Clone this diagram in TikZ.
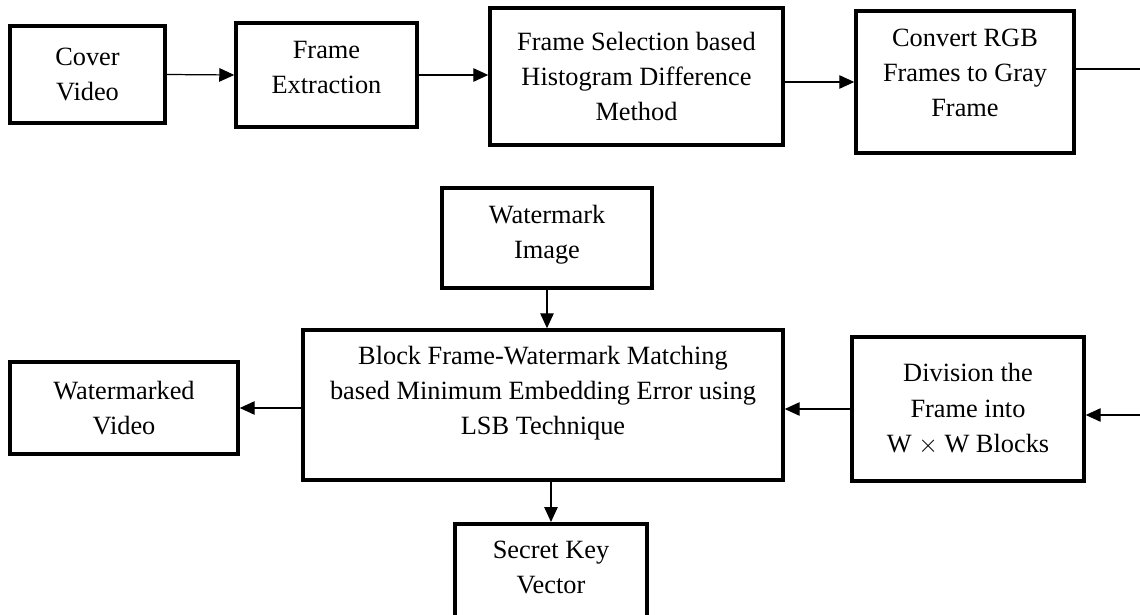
\documentclass[tikz,border=0pt]{standalone}
\usepackage{fontspec}
\setmainfont{Liberation Serif}
\usepackage{amsmath, amssymb}
\usepackage{xcolor}
\usetikzlibrary{arrows.meta}

\tikzset{
  blk/.style={draw, line width=2pt, align=center, inner sep=0pt,
    font=\fontsize{15pt}{20pt}\selectfont},
  conn/.style={line width=0.7pt, -{Triangle[length=0.3cm, width=0.27cm]}}
}

\begin{document}
\begin{tikzpicture}[x=0.02cm, y=-0.02cm]

\clip (0,0) rectangle (1140,615);

% top row
\node[blk, minimum width=3.1cm, minimum height=1.94cm] (cover) at (87.5,74.5) {Cover\\Video};
\node[blk, minimum width=3.62cm, minimum height=2.08cm, text depth=0.3cm] (extract) at (326.5,75) {Frame\\Extraction};
\node[blk, minimum width=5.86cm, minimum height=2.74cm] (select) at (636.5,76.5) {Frame Selection based\\Histogram Difference\\Method};
\node[blk, minimum width=4.36cm, minimum height=2.84cm, text depth=0.38cm] (gray) at (965,82) {Convert RGB\\Frames to Gray\\Frame};

% bottom part
\node[blk, minimum width=4.2cm, minimum height=2cm, text depth=0.26cm] (wmimg) at (547,238) {Watermark\\Image};
\node[blk, minimum width=9.6cm, minimum height=3cm, text depth=0.58cm] (embed) at (543,405) {Block Frame-Watermark Matching\\based Minimum Embedding Error using\\LSB Technique};
\node[blk, minimum width=4.56cm, minimum height=1.84cm] (wmvid) at (124,408) {Watermarked\\Video};
\node[blk, minimum width=4.64cm, minimum height=2.88cm] (divide) at (968,409) {Division the\\Frame into\\W $\times$ W Blocks};
\node[blk, minimum width=3.84cm, inner ysep=0.34cm, anchor=north, text depth=0.9cm] (key) at (551,522) {Secret Key\\Vector};

% loose ends at the right border
\coordinate (outR) at (1140,69);
\coordinate (inR) at (1140,415);

\draw[conn] (cover.east) -- (extract.west);
\draw[conn] (extract.east) -- (extract.east -| select.west);
\draw[conn] (select.east |- gray.west) -- (gray.west);
\draw[line width=0.7pt] (gray.east |- outR) -- (outR);
\draw[conn] (inR) -- (inR -| divide.east);
\draw[conn] (divide.west) -- (divide.west -| embed.east);
\draw[conn] (embed.west |- wmvid.east) -- (wmvid.east);
\draw[conn] (wmimg.south) -- (wmimg.south |- embed.north);
\draw[conn] (key.north |- embed.south) -- (key.north);

\end{tikzpicture}
\end{document}
